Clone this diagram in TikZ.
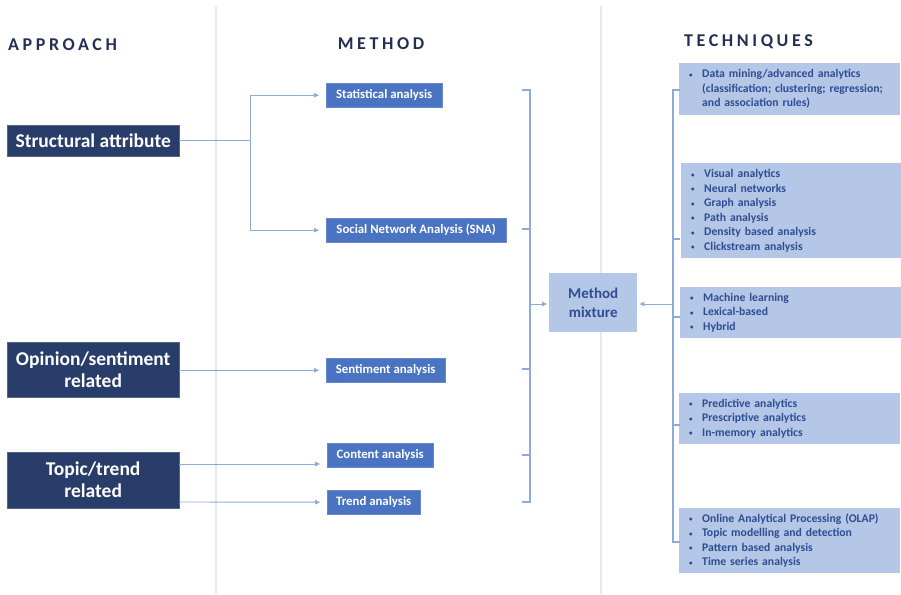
\documentclass[tikz,border=0pt]{standalone}
\usepackage{fontspec}
\setmainfont{Carlito}
\newfontfamily\spacedfont[LetterSpace=20]{Carlito}
\usetikzlibrary{arrows.meta}
\definecolor{hdrcol}{HTML}{243052}
\definecolor{apfill}{HTML}{283D69}
\definecolor{mfill}{HTML}{4A74C2}
\definecolor{lfill}{HTML}{B4C7E7}
\definecolor{ltext}{HTML}{2E4D92}
\definecolor{conn}{HTML}{8EAADB}
\definecolor{sep}{HTML}{E8E8EE}
\newcommand\bul{\makebox[13pt][l]{\raisebox{0.5pt}{\scriptsize•}}}
\newcommand\ind{\hspace*{13pt}}
\begin{document}
\begin{tikzpicture}[x=1pt,y=-1pt,
  hdr/.style={text=hdrcol, font=\spacedfont\bfseries\fontsize{18}{20}\selectfont, inner sep=0pt},
  apbox/.style={fill=apfill, draw=apfill!80!white, text=white, anchor=north west, align=center,
    inner sep=0pt, minimum width=172, font=\bfseries\fontsize{19.5}{22}\selectfont},
  mbox/.style={fill=mfill, draw=mfill!85!white, text=white, anchor=north west, align=center,
    inner sep=0pt, minimum height=24, font=\bfseries\fontsize{12.8}{14}\selectfont},
  mixbox/.style={fill=lfill, text=ltext, anchor=north west, align=center,
    inner sep=0pt, minimum width=88, minimum height=59, font=\bfseries\fontsize{15}{19}\selectfont},
  tbox/.style={fill=lfill, text=ltext, anchor=north west, align=left,
    inner xsep=10pt, inner ysep=0pt, minimum width=221, text width=201,
    font=\bfseries\fontsize{11.7}{14.5}\selectfont},
  link/.style={draw=conn, line width=0.9pt},
  arr/.style={link, -{Triangle[length=5pt,width=4.5pt]}, shorten >=7pt},
  brk/.style={draw=conn, line width=1.1pt}
]
\useasboundingbox (0,0) rectangle (901,594);
\fill[white] (0,0) rectangle (901,594);

% column separators
\draw[sep, line width=1.2pt] (216,6) -- (216,594);
\draw[sep, line width=1.2pt] (601,6) -- (601,594);

% column headings
\node[hdr, anchor=west] (happ) at (8,45) {APPROACH};
\node[hdr] (hmeth) at (381,44) {METHOD};
\node[hdr, anchor=west] (htech) at (684,42) {TECHNIQUES};

% approaches
\node[apbox, minimum height=31] (struct) at (7,125) {Structural attribute};
\node[apbox, minimum height=55] (opin) at (7,342) {Opinion/sentiment\\related};
\node[apbox, minimum height=56] (topic) at (7,452) {Topic/trend\\related};

% methods
\node[mbox, minimum width=116] (stat) at (326,83) {Statistical analysis};
\node[mbox, minimum width=180] (sna) at (326,218) {Social Network Analysis (SNA)};
\node[mbox, minimum width=119] (sent) at (326,358) {Sentiment analysis};
\node[mbox, minimum width=106] (cont) at (327,443) {Content analysis};
\node[mbox, minimum width=93] (trend) at (327,490) {Trend analysis};

% method mixture
\node[mixbox] (mix) at (549,273) {Method\\mixture};

% techniques
\node[tbox, minimum height=52] (t1) at (679,63)
  {\bul Data mining/advanced analytics\\\ind(classification; clustering; regression;\\\ind and association rules)};
\node[tbox, minimum height=95] (t2) at (681,163)
  {\bul Visual analytics\\\bul Neural networks\\\bul Graph analysis\\\bul Path analysis\\\bul Density based analysis\\\bul Clickstream analysis};
\node[tbox, minimum height=51] (t3) at (680,287)
  {\bul Machine learning\\\bul Lexical-based\\\bul Hybrid};
\node[tbox, minimum height=51] (t4) at (679,393)
  {\bul Predictive analytics\\\bul Prescriptive analytics\\\bul In-memory analytics};
\node[tbox, minimum height=65] (t5) at (679,508)
  {\bul Online Analytical Processing (OLAP)\\\bul Topic modelling and detection\\\bul Pattern based analysis\\\bul Time series analysis};

% approach to method connectors
\coordinate (split) at (struct.east -| 250,0);
\draw[link] (struct.east) -- (split);
\draw[arr] (split) |- (stat.west);
\draw[arr] (split) |- (sna.west);
\draw[arr] (opin.east |- sent.west) -- (sent.west);
\draw[arr] (topic.east |- 0,464) -- (cont.west |- 0,464);
\draw[arr] (topic.east |- 0,502) -- (trend.west);

% bracket gathering the methods
\coordinate (mb) at (530,304);
\draw[brk] (522,90) -- (530,90) -- (530,502) -- (522,502);
\foreach \yy in {229,369,455} \draw[brk] (522,\yy) -- (530,\yy);
\draw[arr, shorten >=2pt] (mb) -- (mix.west |- mb);

% bracket gathering the techniques
\coordinate (tb) at (673,304);
\draw[brk] (680,90) -- (673,90) -- (673,542) -- (680,542);
\foreach \yy in {239,317,425} \draw[brk] (673,\yy) -- (680,\yy);
\draw[arr, shorten >=2pt] (tb) -- (mix.east |- tb);
\end{tikzpicture}
\end{document}
